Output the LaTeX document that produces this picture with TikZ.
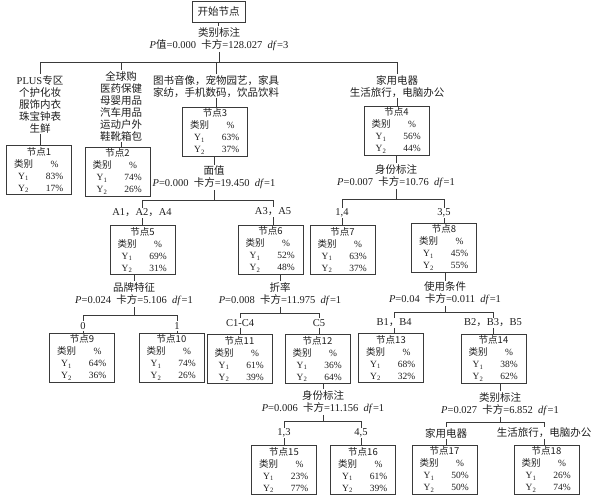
\documentclass[tikz,border=0pt]{standalone}
\usepackage{fontspec}
\setmainfont{Liberation Serif}
\newfontfamily\cjk{Noto Sans CJK SC}
\usetikzlibrary{positioning}
\definecolor{treeline}{HTML}{3A3A3A}
\definecolor{treetext}{HTML}{1E1E1E}
\newcommand{\zh}[1]{{\cjk #1}}
\newcommand{\pstat}[3]{\textit{P}=#1\enspace\zh{卡方}=#2\enspace\textit{df}=#3}
\newcommand{\ndtab}[3]{\zh{节点#1}\\
  \makebox[31pt]{\zh{类别}}\makebox[31pt]{\%}\\
  \makebox[31pt]{Y\textsubscript{1}}\makebox[31pt]{#2\%}\\
  \makebox[31pt]{Y\textsubscript{2}}\makebox[31pt]{#3\%}}
\tikzset{
  tbox/.style={draw=treeline,line width=0.9pt,align=center,text width=62pt,minimum width=65pt,minimum height=49pt,inner sep=0pt,text=treetext,font=\fontsize{9.5}{12}\selectfont},
  lbl/.style={align=center,inner sep=1pt,text=treetext,font=\fontsize{10.5}{12}\selectfont},
  link/.style={draw=treeline,line width=0.9pt},
}
\begin{document}
\begin{tikzpicture}[x=1pt,y=-1pt]
  \useasboundingbox (0,0) rectangle (596,496);
  \node[draw=treeline,line width=0.9pt,minimum width=53pt,minimum height=21pt,inner sep=1pt,text=treetext,font=\fontsize{10.5}{12}\selectfont] (root) at (218.5,11.5) {\zh{开始节点}};
  \node[lbl] (s0) at (219,39) {\zh{类别标注}\\\textit{P}\zh{值}=0.000\enspace\zh{卡方}=128.027\enspace\textit{df}=3};
  \coordinate (j0) at (219,62);
  \node[lbl,anchor=north] (c1) at (40,74) {PLUS\zh{专区}\\\zh{个护化妆}\\\zh{服饰内衣}\\\zh{珠宝钟表}\\\zh{生鲜}};
  \node[lbl,anchor=north] (c2) at (121,70) {\zh{全球购}\\\zh{医药保健}\\\zh{母婴用品}\\\zh{汽车用品}\\\zh{运动户外}\\\zh{鞋靴箱包}};
  \node[lbl,anchor=north] (c3) at (216,74) {\zh{图书音像，宠物园艺，家具}\\\zh{家纺，手机数码，饮品饮料}};
  \node[lbl,anchor=north] (c4) at (397,74) {\zh{家用电器}\\\zh{生活旅行，电脑办公}};
  % result boxes
  \foreach \i/\x/\y/\a/\b in {1/39/170/83/17, 2/117.5/171.5/74/26, 3/215/131.5/63/37, 4/396.5/130.5/56/44,
    5/142.5/250/69/31, 6/270.5/249.5/52/48, 7/342.5/250/63/37, 8/444/247.5/45/55,
    9/82/357.5/64/36, 10/171.5/357.5/74/26, 11/239.5/359/61/39, 12/317.5/359/36/64,
    13/391/358/68/32, 14/493.5/358.5/38/62, 15/284/470/23/77, 16/363/470/61/39,
    17/444.5/469.5/50/50, 18/546.5/469.5/26/74}
    \node[tbox] (n\i) at (\x,\y) {\ndtab{\i}{\a}{\b}};
  % splits
  \node[lbl] (s3) at (214,177.5) {\zh{面值}\\\pstat{0.000}{19.450}{1}};
  \coordinate (j3) at (214,200);
  \node[lbl] (a1) at (142,213) {A1\zh{，}A2\zh{，}A4};
  \node[lbl] (a2) at (273,212) {A3\zh{，}A5};
  \node[lbl] (s4) at (396,176) {\zh{身份标注}\\\pstat{0.007}{10.76}{1}};
  \coordinate (j4) at (396,199);
  \node[lbl] (d1) at (342,213) {1,4};
  \node[lbl] (d2) at (444,213) {3,5};
  \node[lbl] (s5) at (134,294) {\zh{品牌特征}\\\pstat{0.024}{5.106}{1}};
  \coordinate (j5) at (134,315);
  \node[lbl] (e1) at (83,326) {0};
  \node[lbl] (e2) at (177,326) {1};
  \node[lbl] (s6) at (280,294) {\zh{折率}\\\pstat{0.008}{11.975}{1}};
  \coordinate (j6) at (280,313);
  \node[lbl] (f1) at (240,323) {C1-C4};
  \node[lbl] (f2) at (319,323) {C5};
  \node[lbl] (s8) at (445,293.5) {\zh{使用条件}\\\pstat{0.04}{0.011}{1}};
  \coordinate (j8) at (445,312);
  \node[lbl] (g1) at (394,323) {B1\zh{，}B4};
  \node[lbl] (g2) at (493,323) {B2\zh{，}B3\zh{，}B5};
  \node[lbl] (s12) at (323,402) {\zh{身份标注}\\\pstat{0.006}{11.156}{1}};
  \coordinate (j12) at (323,421);
  \node[lbl] (h1) at (284,433) {1,3};
  \node[lbl] (h2) at (361,433) {4,5};
  \node[lbl] (s14) at (500,404) {\zh{类别标注}\\\pstat{0.027}{6.852}{1}};
  \coordinate (j14) at (500,422);
  \node[lbl] (k1) at (446,433) {\zh{家用电器}};
  \node[lbl] (k2) at (544,433) {\zh{生活旅行，电脑办公}};
  % connectors
  \draw[link] (root.south) -- (root.south |- s0.north);
  \foreach \s/\n in {s3/n3,s4/n4,s5/n5,s6/n6,s8/n8,s12/n12,s14/n14}
    \draw[link] (\s.north |- \n.south) -- (\s.north);
  \foreach \s/\j in {s0/j0,s3/j3,s4/j4,s5/j5,s6/j6,s8/j8,s12/j12,s14/j14}
    \draw[link] (\s.south) -- (\j);
  \foreach \j/\c/\n in {j0/c1/n1,j0/c2/n2,j0/c3/n3,j0/c4/n4,j3/a1/n5,j3/a2/n6,j4/d1/n7,j4/d2/n8,
    j5/e1/n9,j5/e2/n10,j6/f1/n11,j6/f2/n12,j8/g1/n13,j8/g2/n14,j12/h1/n15,j12/h2/n16,j14/k1/n17,j14/k2/n18}
    {\draw[link] (\j) -| (\c.north);
     \draw[link] (\c.south) -- (\c.south |- \n.north);}
\end{tikzpicture}
\end{document}
